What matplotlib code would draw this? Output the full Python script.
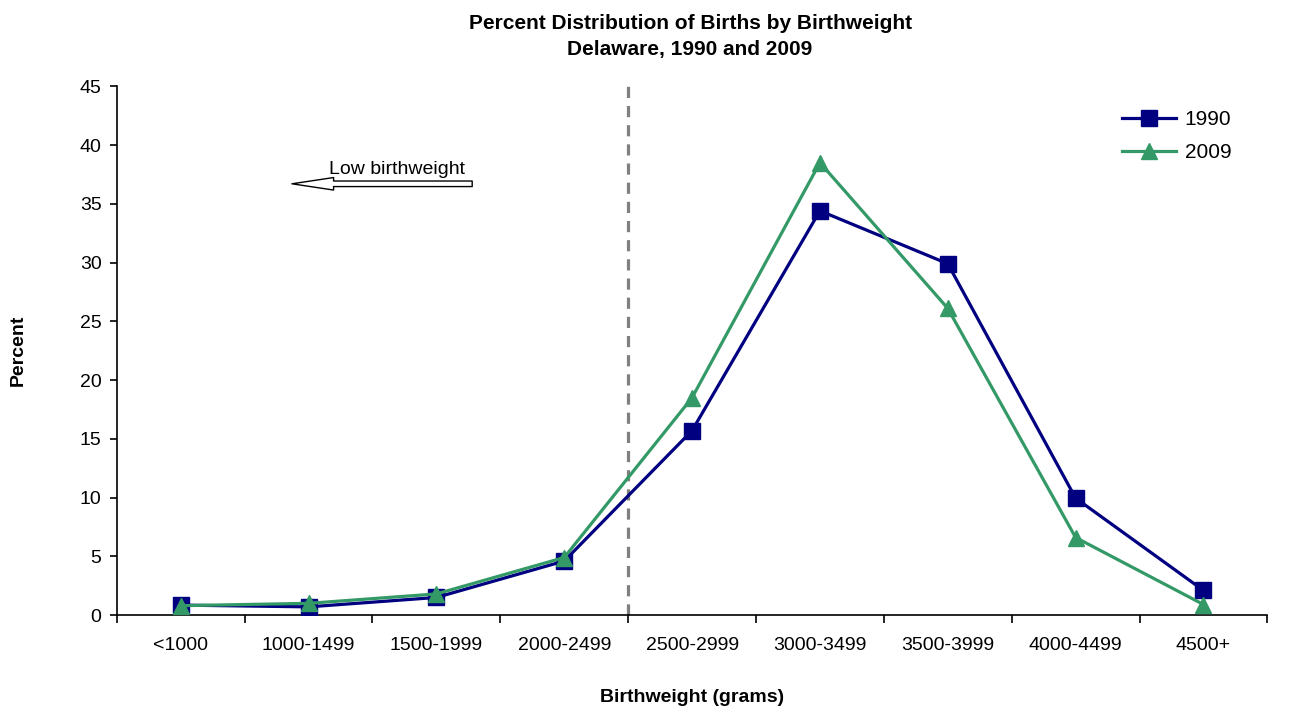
import numpy as np
import matplotlib.pyplot as plt

plt.rcParams['font.family'] = ['Liberation Sans', 'DejaVu Sans']

# 出生体重分组
categories = ["<1000", "1000-1499", "1500-1999", "2000-2499", "2500-2999",
              "3000-3499", "3500-3999", "4000-4499", "4500+"]
pct_1990 = [0.85, 0.7, 1.5, 4.6, 15.7, 34.4, 29.9, 9.95, 2.1]
pct_2009 = [0.8, 1.0, 1.8, 4.9, 18.5, 38.5, 26.1, 6.6, 0.9]

x = np.arange(len(categories))

fig = plt.figure(figsize=(13.12, 7.07), dpi=100)
ax = fig.add_axes([0.089, 0.130, 0.877, 0.748])

ax.plot(x, pct_1990, color="#000080", lw=2.3, marker="s", ms=11, label="1990", zorder=3)
ax.plot(x, pct_2009, color="#339966", lw=2.3, marker="^", ms=11, label="2009", zorder=4)

# 低出生体重分界线
ax.axvline(3.5, color="#808080", lw=2.3, ls=(0, (3.5, 2.5)), zorder=1)

ax.annotate("", xy=(0.87, 36.7), xytext=(2.28, 36.7),
            arrowprops=dict(arrowstyle="simple,head_length=1.5,head_width=0.45,tail_width=0.2",
                            fc="white", ec="black", lw=1, mutation_scale=20,
                            shrinkA=0, shrinkB=0))
ax.text(1.69, 37.2, "Low birthweight", ha="center", va="bottom", fontsize=14)

ax.set_xlim(-0.5, 8.5)
ax.set_ylim(0, 45)
ax.set_yticks(range(0, 46, 5))
ax.set_xticks(x)
ax.set_xticklabels(categories, fontsize=14)
ax.set_xticks(np.arange(-0.5, 9, 1), minor=True)
ax.tick_params(axis="x", which="major", length=0, pad=16)
ax.tick_params(axis="x", which="minor", length=6, width=1.2, direction="out")
ax.tick_params(axis="y", labelsize=14, length=5, width=1.2, direction="out", pad=6)

for s in ["top", "right"]:
    ax.spines[s].set_visible(False)
for s in ["left", "bottom"]:
    ax.spines[s].set_linewidth(1.2)

ax.set_ylabel("Percent", fontsize=14, fontweight="bold", labelpad=38)
ax.set_xlabel("Birthweight (grams)", fontsize=14, fontweight="bold", labelpad=25)
fig.suptitle("Percent Distribution of Births by Birthweight\nDelaware, 1990 and 2009",
             x=0.526, y=0.98, fontsize=15, fontweight="bold", linespacing=1.45)

ax.legend(loc="upper right", bbox_to_anchor=(0.985, 0.99), frameon=False, fontsize=15,
          handlelength=2.6, labelspacing=0.65, handletextpad=0.4)

fig.savefig("out.png", dpi=100)
plt.close()
